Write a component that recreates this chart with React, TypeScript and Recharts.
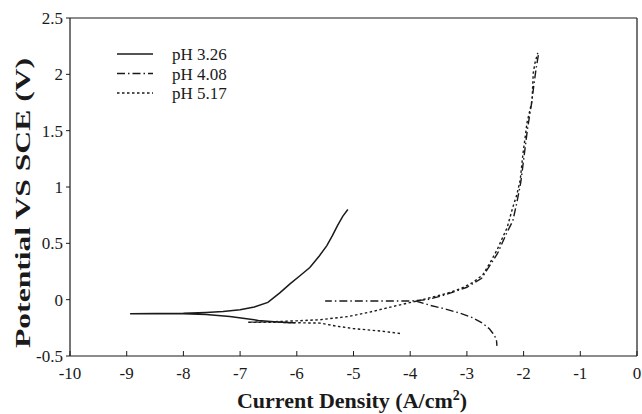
import React from 'react';
import { LineChart, Line, XAxis, YAxis, ReferenceLine, Legend, Label } from 'recharts';

const seriesNames = ['pH 3.26', 'pH 4.08', 'pH 5.17'];
const seriesDash = ['', '8 3 1.5 3', '2.5 2.5'];

const xTicks = [-10, -9, -8, -7, -6, -5, -4, -3, -2, -1, 0];
const yTicks = [-0.5, 0, 0.5, 1, 1.5, 2, 2.5];

// pH 3.26: cathodic end -> Ecorr -> anodic end
const ph326X = [-6.03, -6.12, -6.4, -6.68, -6.95, -7.18, -7.6, -8.0, -8.5, -8.94, -8.5, -8.0, -7.6, -7.3, -7.0, -6.75, -6.51, -6.3, -6.12, -5.95, -5.77, -5.6, -5.47, -5.37, -5.28, -5.19, -5.1];
const ph326Y = [-0.205, -0.205, -0.195, -0.184, -0.165, -0.149, -0.132, -0.126, -0.125, -0.125, -0.122, -0.12, -0.113, -0.105, -0.09, -0.065, -0.024, 0.06, 0.14, 0.21, 0.285, 0.39, 0.48, 0.57, 0.66, 0.74, 0.8];

// pH 4.08: anodic top -> plateau (gap) cathodic branch
const ph408X = [-1.74, -1.78, -1.82, -1.86, -1.93, -1.99, -2.05, -2.12, -2.19, -2.29, -2.46, -2.6, -2.74, -3.0, -3.4, -3.7, -4.0, -4.5, -5.0, -5.5, -3.8, -3.9, -3.65, -3.4, -3.12, -2.9, -2.72, -2.6, -2.54, -2.48, -2.47];
const ph408Y = [2.17, 2.05, 1.9, 1.74, 1.52, 1.28, 1.04, 0.86, 0.7, 0.6, 0.41, 0.3, 0.19, 0.11, 0.04, 0.0, -0.012, -0.012, -0.012, -0.012, null, -0.012, -0.05, -0.08, -0.12, -0.16, -0.21, -0.26, -0.3, -0.35, -0.41];

// pH 5.17: cathodic end -> Ecorr -> anodic end
const ph517X = [-4.18, -4.5, -5.01, -5.3, -5.59, -6.0, -6.4, -6.86, -6.4, -6.0, -5.59, -5.1, -4.71, -4.3, -3.83, -3.55, -3.35, -3.1, -2.89, -2.72, -2.6, -2.47, -2.38, -2.29, -2.19, -2.12, -2.06, -2.01, -1.97, -1.94, -1.89, -1.85, -1.83, -1.8, -1.75];
const ph517Y = [-0.3, -0.28, -0.256, -0.235, -0.208, -0.205, -0.2, -0.2, -0.195, -0.188, -0.178, -0.15, -0.11, -0.06, -0.006, 0.03, 0.056, 0.1, 0.154, 0.22, 0.32, 0.44, 0.54, 0.64, 0.82, 0.93, 1.06, 1.3, 1.45, 1.57, 1.68, 1.77, 2.01, 2.1, 2.19];

const toPoints = (xs: number[], ys: (number | null)[]) => xs.map((x, i) => ({ x, y: ys[i] }));
const seriesData = [toPoints(ph326X, ph326Y), toPoints(ph408X, ph408Y), toPoints(ph517X, ph517Y)];

const FONT = "'Liberation Serif', 'Times New Roman', serif";
const INK = '#1a1a1a';

const XTick = (props: any) => {
  const { x, y, payload } = props;
  return (
    <g>
      <line x1={x} x2={x} y1={y} y2={y - 5} stroke={INK} strokeWidth={1} />
      <text x={x} y={y + 23} textAnchor="middle" fontFamily={FONT} fontSize={17} fill={INK}>
        {payload.value}
      </text>
    </g>
  );
};

const YTick = (props: any) => {
  const { x, y, payload } = props;
  return (
    <g>
      <line x1={x - 4} x2={x} y1={y} y2={y} stroke={INK} strokeWidth={1} />
      <text x={x - 7} y={y + 6} textAnchor="end" fontFamily={FONT} fontSize={17} fill={INK}>
        {payload.value}
      </text>
    </g>
  );
};

const renderLegend = () => (
  <svg width={160} height={66} style={{ display: 'block' }}>
    {seriesNames.map((name, i) => {
      const yy = 14 + i * 19.5;
      return (
        <g key={name}>
          <line x1={7} x2={43} y1={yy} y2={yy} stroke={INK} strokeWidth={1.4} strokeDasharray={seriesDash[i] || undefined} />
          <text x={62} y={yy + 6} fontFamily={FONT} fontSize={17} fill={INK}>
            {name}
          </text>
        </g>
      );
    })}
  </svg>
);

export default function App() {
  return (
    <div style={{ position: 'absolute', left: 0, top: 0, background: '#fff' }}>
      <LineChart width={642} height={414} margin={{ top: 18, right: 5, bottom: 0, left: 0 }}>
        <XAxis
          dataKey="x"
          type="number"
          domain={[-10, 0]}
          ticks={xTicks}
          height={58}
          tickSize={0}
          tickMargin={0}
          tickLine={false}
          tick={<XTick />}
          axisLine={{ stroke: INK, strokeWidth: 1.2 }}
          allowDataOverflow
        >
          <Label
            content={() => (
              <text x={352} y={408} textAnchor="middle" fontFamily={FONT} fontWeight="bold" fontSize={22} fill={INK}>
                Current Density (A/cm
                <tspan dy={-8} fontSize={14}>2</tspan>
                <tspan dy={8}>)</tspan>
              </text>
            )}
          />
        </XAxis>
        <YAxis
          dataKey="y"
          type="number"
          domain={[-0.5, 2.5]}
          ticks={yTicks}
          width={70}
          tickSize={0}
          tickMargin={0}
          tickLine={false}
          tick={<YTick />}
          axisLine={{ stroke: INK, strokeWidth: 1.2 }}
          allowDataOverflow
        >
          <Label
            content={() => (
              <text
                x={0}
                y={0}
                transform="translate(30 203) rotate(-90)"
                textAnchor="middle"
                fontFamily={FONT}
                fontWeight="bold"
                fontSize={21}
                fill={INK}
                textLength={290}
                lengthAdjust="spacingAndGlyphs"
              >
                Potential VS SCE (V)
              </text>
            )}
          />
        </YAxis>
        <ReferenceLine y={2.5} stroke={INK} strokeWidth={1.2} />
        <ReferenceLine x={0} stroke={INK} strokeWidth={1.2} />
        <Legend
          layout="vertical"
          align="center"
          verticalAlign="middle"
          content={renderLegend}
          wrapperStyle={{ left: 110, top: 40, width: 160, height: 66 }}
        />
        {seriesNames.map((name, i) => (
          <Line
            key={name}
            name={name}
            data={seriesData[i]}
            dataKey="y"
            type="linear"
            stroke={INK}
            strokeWidth={i === 0 ? 1.5 : 1.4}
            strokeDasharray={seriesDash[i] || undefined}
            dot={false}
            activeDot={false}
            connectNulls={false}
            isAnimationActive={false}
          />
        ))}
      </LineChart>
    </div>
  );
}
